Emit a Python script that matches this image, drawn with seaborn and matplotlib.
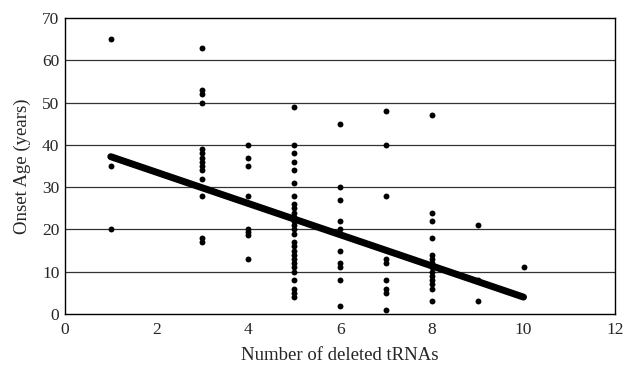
import matplotlib
matplotlib.use("Agg")
import matplotlib.pyplot as plt
import seaborn as sns
import numpy as np
import pandas as pd

sns.set_theme(style="white")
plt.rcParams['font.family'] = ['Liberation Serif', 'DejaVu Serif']

x1 = [65, 35, 20]
x3 = [63, 53, 52, 50, 39, 38, 37, 36, 35, 34, 32, 28, 18, 17]
x4 = [40, 37, 35, 28, 20, 19.3, 18.7, 13]
x5 = [49, 40, 38, 36, 34, 31, 28, 26, 25, 24, 23, 22, 21, 20, 19, 17, 16, 15,
      14, 13, 12, 11, 10, 8, 6, 5, 4]
x6 = [45, 30, 27, 22, 20, 15, 12, 11, 8, 2]
x7 = [48, 40, 28, 13, 12, 8, 6, 5, 1]
x8 = [47, 24, 22, 18, 14, 13, 12, 11, 10, 9, 8, 7, 6, 3]
x9 = [21, 8, 3]
x10 = [11]

# regression line as shown in the figure (end points)
fit_x = [1, 10]
fit_y = [37.2, 4.0]

groups = {1: x1, 3: x3, 4: x4, 5: x5, 6: x6, 7: x7, 8: x8, 9: x9, 10: x10}
xs, ys = [], []
for k, v in groups.items():
    xs += [k] * len(v)
    ys += v
df = pd.DataFrame({"tRNA": xs, "onset": ys})
fit = pd.DataFrame({"tRNA": fit_x, "onset": fit_y})

fig = plt.figure(figsize=(6.24, 3.66), dpi=100)
ax = fig.add_axes([0.104, 0.142, 0.882, 0.809])
for yv in range(10, 70, 10):
    ax.axhline(yv, color="#333333", lw=0.9, zorder=0)
sns.scatterplot(data=df, x="tRNA", y="onset", ax=ax, s=18, color="black",
                linewidth=0, alpha=1, zorder=3)
sns.lineplot(data=fit, x="tRNA", y="onset", ax=ax, color="black", lw=5,
             solid_capstyle="round", zorder=4)
ax.set_xlim(0, 12)
ax.set_ylim(0, 70)
ax.set_xticks(range(0, 13, 2))
ax.set_yticks(range(0, 71, 10))
ax.tick_params(direction="in", length=3, color="black", labelsize=12.5, pad=4)
ax.tick_params(axis="x", pad=6)
for s in ax.spines.values():
    s.set_color("black")
    s.set_linewidth(1.0)
ax.set_xlabel("Number of deleted tRNAs", fontsize=13.5, labelpad=6)
ax.set_ylabel("Onset Age (years)", fontsize=13.5, labelpad=8)
fig.savefig("out.png", dpi=100)
